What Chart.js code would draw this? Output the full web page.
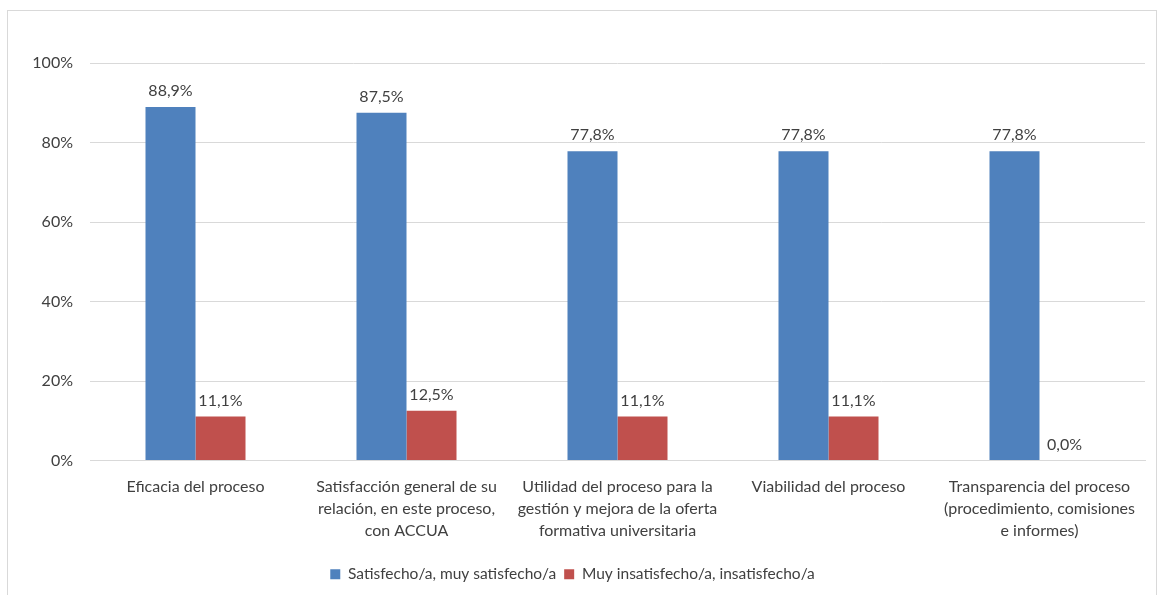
<!DOCTYPE html>
<html>
<head>
<meta charset="utf-8">
<script src="https://cdn.jsdelivr.net/npm/chart.js@4.4.0/dist/chart.umd.min.js"></script>
<style>
  html, body { margin: 0; padding: 0; background: #fff; }
  #wrap { position: absolute; left: 0; top: 0; width: 1166px; height: 595px; }
  #frame { position: absolute; left: 7px; top: 10px; width: 1150px; height: 590px; border: 1px solid #d9d9d9; box-sizing: border-box; }
</style>
</head>
<body>
<div id="wrap">
  <div id="frame"></div>
  <canvas id="chart-area" width="1166" height="595"></canvas>
</div>
<script>
var categories = [
  "Eficacia del proceso",
  ["Satisfacción general de su", "relación, en este proceso,", "con ACCUA"],
  ["Utilidad del proceso para la", "gestión y mejora de la oferta", "formativa universitaria"],
  "Viabilidad del proceso",
  ["Transparencia del proceso", "(procedimiento, comisiones", "e informes)"]
];
var satisfechos = [88.9, 87.5, 77.8, 77.8, 77.8];
var insatisfechos = [11.1, 12.5, 11.1, 11.1, 0.0];
var seriesNames = ["Satisfecho/a, muy satisfecho/a", "Muy insatisfecho/a, insatisfecho/a"];
var yTicks = [0, 20, 40, 60, 80, 100];

var textColor = '#404040';
Chart.defaults.font.family = 'Lato, Carlito, "Open Sans", sans-serif';
Chart.defaults.font.size = 16;
Chart.defaults.color = textColor;

// etiquetas encima de cada barra
var barLabels = {
  id: 'barLabels',
  afterDatasetsDraw: function (chart) {
    var ctx = chart.ctx;
    ctx.save();
    ctx.font = '16px ' + Chart.defaults.font.family;
    ctx.fillStyle = textColor;
    ctx.textAlign = 'center';
    ctx.textBaseline = 'bottom';
    chart.data.datasets.forEach(function (ds, i) {
      chart.getDatasetMeta(i).data.forEach(function (bar, j) {
        var txt = ds.data[j].toFixed(1).replace('.', ',') + '%';
        ctx.fillText(txt, bar.x, bar.y - 8);
      });
    });
    ctx.restore();
  }
};

var config = {
  type: 'bar',
  data: {
    labels: categories,
    datasets: [{
      label: seriesNames[0],
      data: satisfechos,
      backgroundColor: '#4F81BD'
    }, {
      label: seriesNames[1],
      data: insatisfechos,
      backgroundColor: '#C0504D'
    }]
  },
  options: {
    responsive: false,
    animation: false,
    layout: { padding: { top: 63, right: 21, left: 0, bottom: 3 } },
    datasets: { bar: { categoryPercentage: 0.474, barPercentage: 1.0 } },
    scales: {
      x: {
        grid: { display: false },
        border: { color: '#d9d9d9' },
        ticks: { autoSkip: false, maxRotation: 0, padding: 7, font: { size: 16, lineHeight: 1.375 } },
        afterFit: function (s) { s.height = 98; }
      },
      y: {
        min: 0,
        max: 100,
        afterBuildTicks: function (s) { s.ticks = yTicks.map(function (v) { return { value: v }; }); },
        grid: { color: '#d9d9d9', drawTicks: false },
        border: { display: false },
        ticks: { padding: 17, callback: function (v) { return v + '%'; } },
        afterFit: function (s) { s.width = 90; }
      }
    },
    plugins: {
      legend: {
        position: 'bottom',
        labels: { boxWidth: 10, boxHeight: 10, padding: 8, color: textColor, font: { size: 15.5 } }
      },
      tooltip: { enabled: false }
    }
  },
  plugins: [barLabels]
};

var ctx = document.getElementById("chart-area").getContext("2d");
var myBarChart = new Chart(ctx, config);
</script>
</body>
</html>
